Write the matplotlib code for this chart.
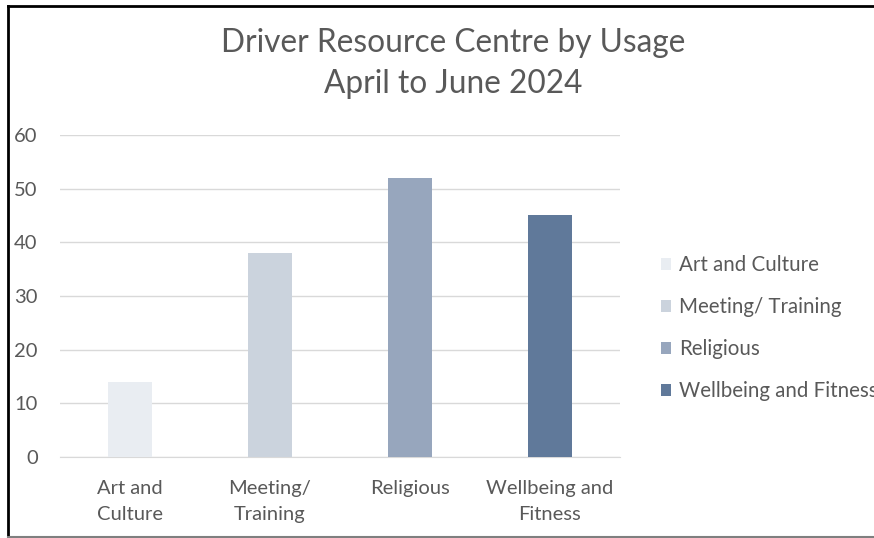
import matplotlib
matplotlib.use("Agg")
import matplotlib.pyplot as plt
from matplotlib.lines import Line2D

plt.rcParams['font.family'] = ['Lato', 'DejaVu Sans']

categories = ["Art and\nCulture", "Meeting/\nTraining", "Religious", "Wellbeing and\nFitness"]
legend_labels = ["Art and Culture", "Meeting/ Training", "Religious", "Wellbeing and Fitness"]
usage = [14, 38, 52, 45]
colors = ["#E9EDF2", "#CBD3DD", "#97A6BD", "#60799A"]
yticks = [0, 10, 20, 30, 40, 50, 60]

txt = "#595959"
grid = "#D9D9D9"

fig = plt.figure(figsize=(8.74, 5.38), dpi=100)
ax = fig.add_axes([0.0686, 0.1506, 0.6407, 0.5985])

for i in range(len(usage)):
    ax.bar(i, usage[i], width=0.31, color=colors[i], label=legend_labels[i], zorder=3)

ax.set_xlim(-0.5, len(usage) - 0.5)
ax.set_ylim(0, 60)
ax.set_yticks(yticks)
ax.set_xticks(range(len(categories)))
ax.set_xticklabels(categories, fontsize=14.5, color=txt, linespacing=1.65)
ax.tick_params(axis='y', length=0, pad=16, labelsize=14.5, labelcolor=txt)
ax.tick_params(axis='x', length=0, pad=16.5)
for lab in ax.get_yticklabels():
    lab.set_horizontalalignment('right')
ax.yaxis.grid(True, color=grid, linewidth=1, zorder=0)
for s in ['top', 'right', 'left']:
    ax.spines[s].set_visible(False)
ax.spines['bottom'].set_color(grid)

fig.text(0.518, 0.92, "Driver Resource Centre by Usage", ha='center', va='center',
         fontsize=22.8, color=txt)
fig.text(0.518, 0.843, "April to June 2024", ha='center', va='center',
         fontsize=22.8, color=txt)

# the legend runs past the right edge, as in the source chart
ax.legend(loc='center left', bbox_to_anchor=(1.058, 0.40), frameon=False,
          fontsize=14.8, labelcolor=txt, handlelength=0.5, handleheight=0.5,
          handletextpad=0.4, labelspacing=1.07, borderaxespad=0)

# frame around the chart image
fig.add_artist(Line2D([0.0097, 0.0097], [0.0, 0.988], transform=fig.transFigure, color="black", lw=2))
fig.add_artist(Line2D([0.0097, 1.0], [0.988, 0.988], transform=fig.transFigure, color="black", lw=2))
fig.add_artist(Line2D([0.0097, 1.0], [0.002, 0.002], transform=fig.transFigure, color="#7F7F7F", lw=1.5))

fig.savefig("out.png", dpi=100)
